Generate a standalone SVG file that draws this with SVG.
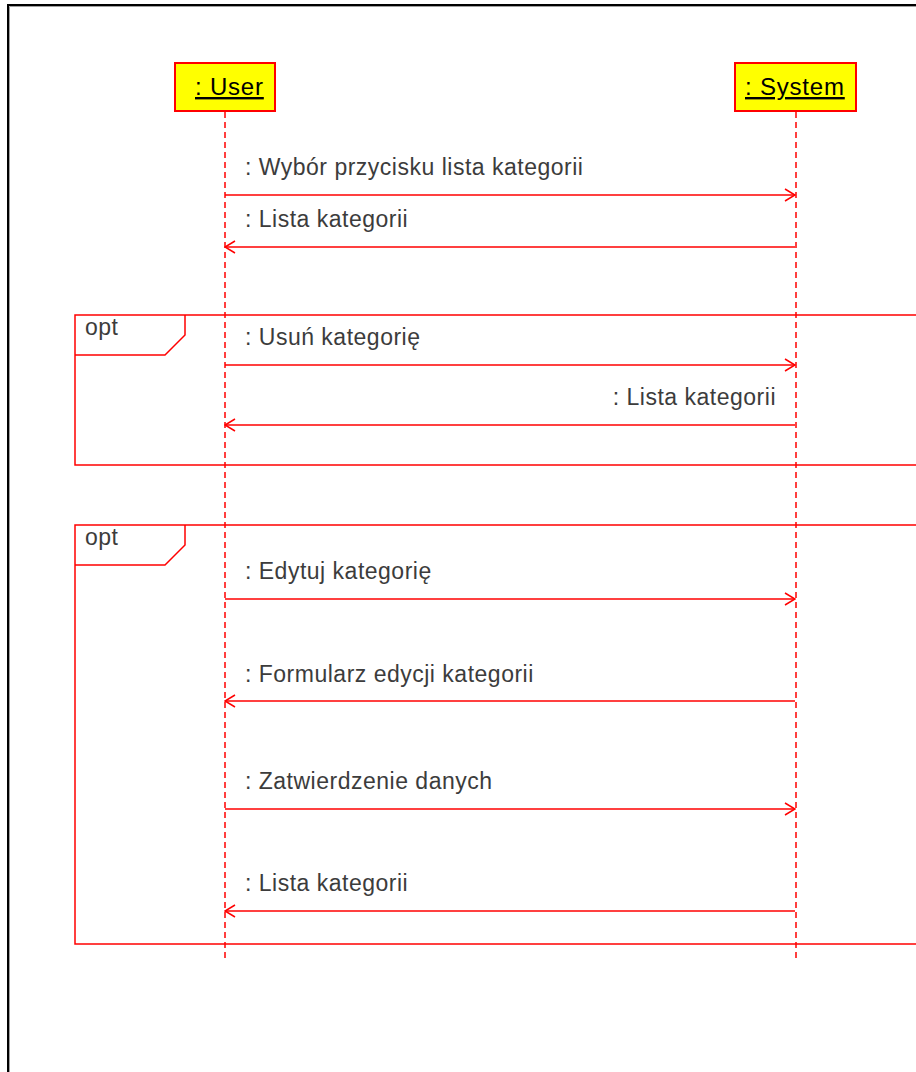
<svg xmlns="http://www.w3.org/2000/svg" width="916" height="1072" viewBox="0 0 916 1072">
  <defs>
    <style>
      .lbl { font-family: "Liberation Sans", Arial, sans-serif; font-size: 23px; fill: #3c3c3c; letter-spacing: 0.5px; }
      .head { font-family: "Liberation Sans", Arial, sans-serif; font-size: 24px; fill: #000; letter-spacing: 0.8px; text-decoration: underline; }
      .box { fill: #ffff00; stroke: #ff0000; stroke-width: 2; }
      .life { stroke: #ff0000; stroke-width: 1.5; stroke-dasharray: 6 4; fill: none; }
      .msg { stroke: #ff0000; stroke-width: 1.5; fill: none; }
      .frame { stroke: #ff0000; stroke-width: 1.5; fill: none; }
    </style>
    <marker id="open" viewBox="0 0 12 14" refX="11" refY="7" markerWidth="12" markerHeight="14" markerUnits="userSpaceOnUse" orient="auto">
      <path d="M1,1 L11,7 L1,13" fill="none" stroke="#ff0000" stroke-width="1.5"/>
    </marker>
  </defs>

  <rect width="916" height="1072" fill="#ffffff"/>
  <!-- outer border -->
  <path d="M9.5,1072 V6.5 H916" fill="none" stroke="#a0a0a0" stroke-width="1"/>
  <path d="M8,1072 V5 H916" fill="none" stroke="#000" stroke-width="2"/>

  <!-- lifelines -->
  <g id="lifelines">
    <line class="life" x1="225" y1="112" x2="225" y2="958"/>
    <line class="life" x1="796" y1="112" x2="796" y2="958"/>
  </g>

  <!-- combined fragments -->
  <g id="opt1">
    <rect class="frame" x="75" y="315" width="860" height="150"/>
    <path class="frame" d="M185,315 V335 L165,355 H75"/>
    <text class="lbl" x="85" y="335">opt</text>
  </g>
  <g id="opt2">
    <rect class="frame" x="75" y="525" width="860" height="419"/>
    <path class="frame" d="M185,525 V545 L165,565 H75"/>
    <text class="lbl" x="85" y="545">opt</text>
  </g>

  <!-- participants -->
  <g id="user">
    <rect class="box" x="175" y="63" width="100" height="48"/>
    <text class="head" x="195" y="95">: User</text>
  </g>
  <g id="system">
    <rect class="box" x="735" y="63" width="121" height="48"/>
    <text class="head" x="745" y="95">: System</text>
  </g>

  <!-- messages -->
  <g id="connectors">
    <line class="msg" x1="225" y1="195" x2="795" y2="195" marker-end="url(#open)"/>
    <text class="lbl" x="245" y="175">: Wybór przycisku lista kategorii</text>

    <line class="msg" x1="795" y1="247" x2="225" y2="247" marker-end="url(#open)"/>
    <text class="lbl" x="245" y="227">: Lista kategorii</text>

    <line class="msg" x1="225" y1="365" x2="795" y2="365" marker-end="url(#open)"/>
    <text class="lbl" x="245" y="345">: Usuń kategorię</text>

    <line class="msg" x1="795" y1="425" x2="225" y2="425" marker-end="url(#open)"/>
    <text class="lbl" x="776" y="405" text-anchor="end">: Lista kategorii</text>

    <line class="msg" x1="225" y1="599" x2="795" y2="599" marker-end="url(#open)"/>
    <text class="lbl" x="245" y="579">: Edytuj kategorię</text>

    <line class="msg" x1="795" y1="701" x2="225" y2="701" marker-end="url(#open)"/>
    <text class="lbl" x="245" y="682">: Formularz edycji kategorii</text>

    <line class="msg" x1="225" y1="809" x2="795" y2="809" marker-end="url(#open)"/>
    <text class="lbl" x="245" y="789">: Zatwierdzenie danych</text>

    <line class="msg" x1="795" y1="911" x2="225" y2="911" marker-end="url(#open)"/>
    <text class="lbl" x="245" y="891">: Lista kategorii</text>
  </g>
</svg>
